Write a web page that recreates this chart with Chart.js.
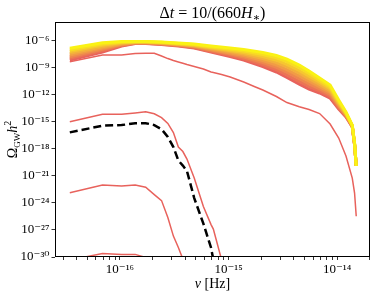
<!DOCTYPE html>
<html>
<head>
<meta charset="utf-8">
<script src="https://cdn.jsdelivr.net/npm/chart.js@4"></script>
<style>
  body { margin: 0; background: #fff; }
</style>
</head>
<body>
<canvas id="chart-1" width="377" height="297" style="width:377px;height:297px"></canvas>
<script>
// frequencies in Hz (shared grid for the single curves)
const freq = [3.45e-17, 6.9e-17, 1.035e-16, 1.38e-16, 1.725e-16, 2.07e-16, 2.415e-16, 2.76e-16,
  3.105e-16, 3.45e-16, 3.795e-16, 4.14e-16, 4.83e-16, 5.865e-16, 6.9e-16, 7.245e-16, 8.625e-16,
  1.035e-15, 1.38e-15, 1.725e-15, 2.07e-15, 2.76e-15, 3.45e-15, 4.485e-15, 5.52e-15, 6.9e-15,
  8.625e-15, 1.035e-14, 1.2075e-14, 1.38e-14, 1.449e-14, 1.50075e-14];

// coarser grid for the bundle of curves
const freqFan = [3.45e-17, 6.9e-17, 1.035e-16, 1.38e-16, 1.725e-16, 2.415e-16, 3.45e-16, 4.83e-16,
  6.9e-16, 1.035e-15, 1.38e-15, 2.07e-15, 2.76e-15, 3.45e-15, 4.485e-15, 5.52e-15, 6.9e-15,
  8.625e-15, 1.035e-14, 1.2075e-14, 1.38e-14, 1.449e-14, 1.50075e-14];

// log10(Omega_GW h^2)
const redTop = [-8.33, -7.59, -7.59, -7.42, -7.38, -7.40, -7.70, -7.98, -8.20, -8.36, -8.50, -8.64,
  -8.86, -9.14, -9.47, -9.52, -9.75, -10.03, -10.58, -11.08, -11.47, -12.19, -12.86, -13.33,
  -13.64, -14.08, -15.24, -16.80, -18.80, -21.24, -22.90, -25.47];
const redMid = [-14.99, -14.17, -14.17, -14.02, -13.89, -14.11, -14.53, -15.18, -16.19, -17.80,
  -18.30, -19.13, -21.24, -24.40, -26.40, -26.90, -30.30];
const dashed = [-16.17, -15.43, -15.36, -15.16, -15.15, -15.36, -15.82, -16.68, -17.80, -19.30,
  -19.85, -20.46, -23.46, -26.30, -28.97, -30.30];
const redLow = [-22.87, -22.02, -22.13, -22.02, -22.26, -23.07, -23.74, -25.62, -27.68, -28.95, -30.23];
const redBottom = [-30.35, -29.60, -29.71, -29.71, -30.06, -30.60];

// bundle, from the red (earliest) to the yellow (latest) curve
const fan0 = [-8.14, -7.25, -6.59, -6.31, -6.31, -6.42, -6.59, -6.81, -7.25, -7.75, -8.14, -8.86, -9.47, -10.08, -10.81, -11.36, -11.80, -12.36, -13.58, -14.47, -15.58, -17.57, -19.90];
const fan1 = [-7.95, -7.10, -6.52, -6.28, -6.28, -6.38, -6.54, -6.75, -7.16, -7.62, -7.97, -8.64, -9.21, -9.79, -10.51, -11.07, -11.56, -12.15, -13.44, -14.39, -15.55, -17.54, -19.90];
const fan2 = [-7.77, -6.96, -6.45, -6.25, -6.25, -6.34, -6.50, -6.68, -7.06, -7.48, -7.81, -8.42, -8.95, -9.49, -10.21, -10.79, -11.33, -11.95, -13.29, -14.31, -15.52, -17.51, -19.90];
const fan3 = [-7.58, -6.81, -6.38, -6.22, -6.22, -6.30, -6.45, -6.62, -6.97, -7.35, -7.64, -8.20, -8.69, -9.20, -9.90, -10.50, -11.09, -11.74, -13.15, -14.23, -15.49, -17.48, -19.90];
const fan4 = [-7.40, -6.66, -6.30, -6.18, -6.18, -6.26, -6.40, -6.56, -6.87, -7.21, -7.48, -7.97, -8.42, -8.91, -9.60, -10.21, -10.85, -11.54, -13.01, -14.15, -15.45, -17.44, -19.90];
const fan5 = [-7.21, -6.51, -6.23, -6.15, -6.15, -6.22, -6.35, -6.50, -6.78, -7.08, -7.31, -7.75, -8.16, -8.62, -9.30, -9.93, -10.61, -11.33, -12.87, -14.07, -15.42, -17.41, -19.90];
const fan6 = [-7.03, -6.37, -6.16, -6.12, -6.12, -6.18, -6.31, -6.43, -6.69, -6.95, -7.15, -7.53, -7.90, -8.32, -9.00, -9.64, -10.38, -11.13, -12.72, -13.99, -15.39, -17.38, -19.90];
const fan7 = [-6.84, -6.22, -6.09, -6.09, -6.09, -6.14, -6.26, -6.37, -6.59, -6.81, -6.98, -7.31, -7.64, -8.03, -8.70, -9.36, -10.14, -10.92, -12.58, -13.91, -15.36, -17.35, -19.90];
const fanColors = ["rgb(232,98,92)", "rgb(235,115,85)", "rgb(238,135,78)", "rgb(241,155,70)",
  "rgb(243,176,60)", "rgb(246,198,48)", "rgb(248,220,35)", "rgb(250,242,20)"];

const yTicks = [1e-30, 1e-27, 1e-24, 1e-21, 1e-18, 1e-15, 1e-12, 1e-9, 1e-6];
const xTicks = [3e-17, 4e-17, 5e-17, 6e-17, 7e-17, 8e-17, 9e-17,
  1e-16, 2e-16, 3e-16, 4e-16, 5e-16, 6e-16, 7e-16, 8e-16, 9e-16,
  1e-15, 2e-15, 3e-15, 4e-15, 5e-15, 6e-15, 7e-15, 8e-15, 9e-15, 1e-14, 2e-14];

const RED = "rgb(232,98,92)";
const serif = "'Liberation Serif', 'DejaVu Serif', serif";

function line(vals, xs, color, width, order, dash) {
  return {
    data: vals.map((v, i) => ({ x: xs[i], y: Math.pow(10, v) })),
    borderColor: color,
    borderWidth: width,
    borderDash: dash || [],
    showLine: true,
    pointRadius: 0,
    fill: false,
    order: order,
    clip: 0,
  };
}

const sup = { "-": "\u207B", "0": "\u2070", "1": "\u00B9", "2": "\u00B2", "3": "\u00B3", "4": "\u2074",
  "5": "\u2075", "6": "\u2076", "7": "\u2077", "8": "\u2078", "9": "\u2079" };
function powLabel(v) {
  const e = Math.round(Math.log10(v));
  return "10" + String(e).split("").map(c => sup[c]).join("");
}

// draws a run of text pieces (font / vertical shift) centred on x
function rich(ctx, parts, x, y) {
  let w = 0;
  parts.forEach(p => { ctx.font = p.f; p.w = ctx.measureText(p.t).width; w += p.w; });
  let cx = x - w / 2;
  parts.forEach(p => { ctx.font = p.f; ctx.fillText(p.t, cx, y + (p.dy || 0)); cx += p.w; });
}

const texts = {
  id: "texts",
  afterDraw(chart) {
    const ctx = chart.ctx;
    const a = chart.chartArea;
    ctx.save();
    ctx.strokeStyle = "#000";
    ctx.lineWidth = 1;
    ctx.strokeRect(Math.round(a.left) + 0.5, Math.round(a.top) + 0.5,
      Math.round(a.right - a.left) - 1, Math.round(a.bottom - a.top) - 1);
    ctx.fillStyle = "#000";
    ctx.textAlign = "left";
    ctx.textBaseline = "alphabetic";
    const cxm = (a.left + a.right) / 2;
    rich(ctx, [
      { t: "\u0394", f: "16px " + serif },
      { t: "t", f: "italic 16px " + serif },
      { t: " = 10/(660", f: "16px " + serif },
      { t: "H", f: "italic 16px " + serif },
      { t: "\u2217", f: "11px " + serif, dy: 3 },
      { t: ")", f: "16px " + serif },
    ], cxm, 18);
    rich(ctx, [
      { t: "\u03BD", f: "italic 14px " + serif },
      { t: " [Hz]", f: "14px " + serif },
    ], cxm, 288);
    ctx.translate(17, (a.top + a.bottom) / 2);
    ctx.rotate(-Math.PI / 2);
    rich(ctx, [
      { t: "\u03A9", f: "14px " + serif },
      { t: "GW", f: "9px " + serif, dy: 3 },
      { t: "h", f: "italic 14px " + serif },
      { t: "2", f: "10px " + serif, dy: -6 },
    ], 0, 0);
    ctx.restore();
  },
};

const fans = [fan0, fan1, fan2, fan3, fan4, fan5, fan6, fan7];
const datasets = [line(dashed, freq, "#000", 2.5, 0, [8, 4])];
fans.forEach((f, i) => datasets.push(line(f, freqFan, fanColors[i], 3, 9 - i)));
datasets.push(line(redTop, freq, RED, 1.5, 10));
datasets.push(line(redMid, freq, RED, 1.5, 10));
datasets.push(line(redLow, freq, RED, 1.5, 10));
datasets.push(line(redBottom, freq, RED, 1.5, 10));

Chart.defaults.font.family = serif;
Chart.defaults.color = "#000";

new Chart(document.getElementById("chart-1"), {
  type: "scatter",
  data: { datasets: datasets },
  options: {
    responsive: false,
    animation: false,
    layout: { padding: { left: 0, right: 7, top: 22, bottom: 0 } },
    plugins: { legend: { display: false }, tooltip: { enabled: false } },
    scales: {
      x: {
        type: "logarithmic",
        bounds: "data",
        min: 2.52e-17,
        max: 2.01e-14,
        afterBuildTicks: s => { s.ticks = xTicks.map(v => ({ value: v })); },
        afterFit: s => { s.height = 40; },
        border: { display: false },
        grid: { drawOnChartArea: false, tickLength: 3, tickColor: "#000", tickWidth: 0.8 },
        ticks: {
          autoSkip: false, maxRotation: 0, padding: 2,
          font: { size: 13 },
          callback: v => (Math.abs(Math.log10(v) - Math.round(Math.log10(v))) < 1e-6 ? powLabel(v) : ""),
        },
      },
      y: {
        type: "logarithmic",
        bounds: "data",
        min: 1e-30,
        max: 1.2e-4,
        afterBuildTicks: s => { s.ticks = yTicks.map(v => ({ value: v })); },
        afterFit: s => { s.width = 55; },
        border: { display: false },
        grid: { drawOnChartArea: false, tickLength: 3.5, tickColor: "#000", tickWidth: 0.8 },
        ticks: { autoSkip: false, padding: 2, font: { size: 13 }, callback: v => powLabel(v) },
      },
    },
  },
  plugins: [texts],
});
</script>
</body>
</html>
